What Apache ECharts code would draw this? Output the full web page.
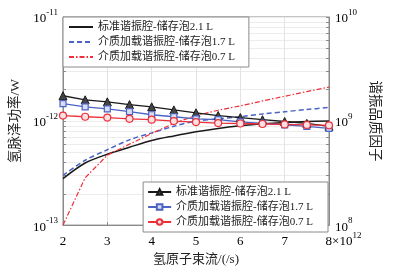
<!DOCTYPE html>
<html><head><meta charset="utf-8">
<script src="https://cdn.jsdelivr.net/npm/echarts@6/dist/echarts.min.js"></script>
<style>html,body{margin:0;padding:0;background:#fff}#c{width:398px;height:271px}</style>
</head><body><div id="c"></div><script>
// ---- data ----
const flux = [2, 2.5, 3, 3.5, 4, 4.5, 5, 5.5, 6, 6.5, 7, 7.5, 8];
const xTicks = [2, 3, 4, 5, 6, 7, 8];
const names = ['标准谐振腔-储存泡2.1 L', '介质加载谐振腔-储存泡1.7 L', '介质加载谐振腔-储存泡0.7 L'];
// quality factor (right axis)
const qStd    = [2.8e8, 3.95e8, 4.8e8, 5.6e8, 6.5e8, 7.2e8, 7.9e8, 8.5e8, 9.0e8, 9.4e8, 9.7e8, 9.9e8, 1.0e9];
const qDiel17 = [3.0e8, 4.2e8, 5.3e8, 6.6e8, 7.7e8, 8.9e8, 1.0e9, 1.05e9, 1.1e9, 1.17e9, 1.23e9, 1.29e9, 1.35e9];
const qDiel07 = [1.0e8, 2.85e8, 4.7e8, 6.0e8, 7.6e8, 9.5e8, 1.13e9, 1.27e9, 1.4e9, 1.56e9, 1.73e9, 1.92e9, 2.12e9];
// maser power (left axis)
const pStd    = [1.75e-12, 1.60e-12, 1.53e-12, 1.44e-12, 1.37e-12, 1.28e-12, 1.20e-12, 1.13e-12, 1.08e-12, 1.03e-12, 0.99e-12, 0.95e-12, 0.89e-12];
const pDiel17 = [1.47e-12, 1.37e-12, 1.31e-12, 1.23e-12, 1.15e-12, 1.10e-12, 1.05e-12, 1.03e-12, 0.98e-12, 0.95e-12, 0.92e-12, 0.89e-12, 0.85e-12];
const pDiel07 = [1.13e-12, 1.10e-12, 1.08e-12, 1.05e-12, 1.03e-12, 1.00e-12, 0.978e-12, 0.957e-12, 0.947e-12, 0.937e-12, 0.928e-12, 0.918e-12, 0.909e-12];
// log-axis tick decades
const leftDecades = [-13, -12, -11];
const rightDecades = [8, 9, 10];

// ---- helpers ----
function pairs(ys) { return flux.map((x, i) => [x, ys[i]]); }
function minorLogs(decs) {
  const out = [];
  for (let d = decs[0]; d < decs[decs.length - 1]; d++) {
    for (let k = 1; k <= 9; k++) out.push(d + Math.log10(k));
  }
  out.push(decs[decs.length - 1]);
  return out;
}
const serif = 'Liberation Serif';
const cjk = '"Liberation Serif","Noto Sans CJK SC"';
const supRich = {
  b: { fontFamily: serif, fontSize: 13, color: '#000', lineHeight: 17, verticalAlign: 'bottom' },
  s: { fontFamily: serif, fontSize: 9, color: '#000', lineHeight: 17, verticalAlign: 'top' },
  sp: { width: 29 }
};
const black = '#1a1a1a', blue = '#4a63c4', red = '#ec2f3a';

const chart = echarts.init(document.getElementById('c'), null, { renderer: 'canvas' });
const grid = { left: 63, right: 69, top: 17, bottom: 43, show: true, borderColor: '#8a8a8a', borderWidth: 1, backgroundColor: 'transparent' };

chart.setOption({
  animation: false,
  backgroundColor: '#fff',
  grid: grid,
  xAxis: {
    type: 'value', min: 2, max: 8, interval: 1,
    name: '氢原子束流/(/s)', nameLocation: 'middle', nameGap: 24,
    nameTextStyle: { fontFamily: cjk, fontSize: 13, color: '#222' },
    axisLine: { lineStyle: { color: '#8a8a8a' } },
    axisTick: { inside: true, length: 3, lineStyle: { color: '#8a8a8a' } },
    splitLine: { show: true, lineStyle: { color: '#e3e3e3' } },
    axisLabel: {
      margin: 6,
      formatter: v => v === 8 ? '{sp|}{b|8×10}{s|12}' : '{b|' + v + '}',
      rich: supRich
    }
  },
  yAxis: [
    {
      type: 'log', logBase: 10, min: 1e-13, max: 1e-11, position: 'left',
      name: '氢脉泽功率/W', nameLocation: 'middle', nameGap: 35, nameRotate: 90,
      nameTextStyle: { fontFamily: cjk, fontSize: 13.5, color: '#222' },
      axisLine: { show: true, lineStyle: { color: '#8a8a8a' } },
      axisTick: { show: false },
      splitLine: { show: false },
      axisLabel: {
        margin: 5,
        formatter: v => '{b|10}{s|' + Math.round(Math.log10(v)) + '}',
        rich: supRich
      }
    },
    {
      type: 'log', logBase: 10, min: 1e8, max: 1e10, position: 'right',
      name: '谐振品质因子', nameLocation: 'middle', nameGap: 25, nameRotate: -90,
      nameTextStyle: { fontFamily: cjk, fontSize: 13.5, color: '#222' },
      axisLine: { show: true, lineStyle: { color: '#8a8a8a' } },
      axisTick: { show: false },
      splitLine: { show: false },
      axisLabel: {
        margin: 6,
        formatter: v => '{b|10}{s|' + Math.round(Math.log10(v)) + '}',
        rich: supRich
      }
    },
    {
      // log-space helper axis for minor ticks & faint grid (left)
      type: 'value', min: leftDecades[0], max: leftDecades[2], position: 'left',
      axisLine: { show: false },
      axisLabel: { show: false },
      axisTick: { show: true, inside: true, length: 3, customValues: minorLogs(leftDecades), lineStyle: { color: '#8a8a8a' } },
      splitLine: { show: true, lineStyle: { color: '#ececec' } }
    },
    {
      type: 'value', min: rightDecades[0], max: rightDecades[2], position: 'right',
      axisLine: { show: false },
      axisLabel: { show: false },
      axisTick: { show: true, inside: true, length: 3, customValues: minorLogs(rightDecades), lineStyle: { color: '#8a8a8a' } },
      splitLine: { show: false }
    }
  ],
  legend: [
    {
      data: names, orient: 'vertical', left: 63, top: 17,
      backgroundColor: '#fff', borderColor: '#8a8a8a', borderWidth: 1, borderRadius: 0,
      padding: [3, 14, 3, 5], itemGap: 1, itemWidth: 24, itemHeight: 12,
      itemStyle: { opacity: 0 },
      textStyle: { fontFamily: cjk, fontSize: 11, color: '#222', lineHeight: 14 }
    },
    {
      data: names.map(n => n + ' '), orient: 'vertical', right: 70, top: 182,
      formatter: n => n.trim(),
      backgroundColor: '#fff', borderColor: '#8a8a8a', borderWidth: 1, borderRadius: 0,
      padding: [3, 15, 3, 4], itemGap: 1, itemWidth: 23, itemHeight: 7,
      textStyle: { fontFamily: cjk, fontSize: 11, color: '#222', lineHeight: 14 }
    }
  ],
  series: [
    { name: names[0], type: 'line', yAxisIndex: 1, data: pairs(qStd), symbol: 'none', smooth: 0.3,
      lineStyle: { color: black, width: 1.5 }, itemStyle: { color: black }, z: 2 },
    { name: names[1], type: 'line', yAxisIndex: 1, data: pairs(qDiel17), symbol: 'none', smooth: 0.3,
      lineStyle: { color: blue, width: 1.5, type: [5, 3] }, itemStyle: { color: blue }, z: 2 },
    { name: names[2], type: 'line', yAxisIndex: 1, data: pairs(qDiel07), symbol: 'none',
      lineStyle: { color: red, width: 1.2, type: [5, 2, 1.5, 2] }, itemStyle: { color: red }, z: 2 },
    { name: names[0] + ' ', type: 'line', yAxisIndex: 0, data: pairs(pStd), symbol: 'triangle', symbolSize: 8,
      lineStyle: { color: black, width: 1.3 }, itemStyle: { color: '#444', borderColor: black, borderWidth: 1 }, z: 3 },
    { name: names[1] + ' ', type: 'line', yAxisIndex: 0, data: pairs(pDiel17), symbol: 'rect', symbolSize: 6,
      lineStyle: { color: blue, width: 1.3 }, itemStyle: { color: '#d8ddf0', borderColor: blue, borderWidth: 1.2 }, z: 3 },
    { name: names[2] + ' ', type: 'line', yAxisIndex: 0, data: pairs(pDiel07), symbol: 'circle', symbolSize: 7,
      lineStyle: { color: red, width: 1.3 }, itemStyle: { color: '#fbe0e0', borderColor: red, borderWidth: 1.2 }, z: 3 }
  ]
});
</script></body></html>
